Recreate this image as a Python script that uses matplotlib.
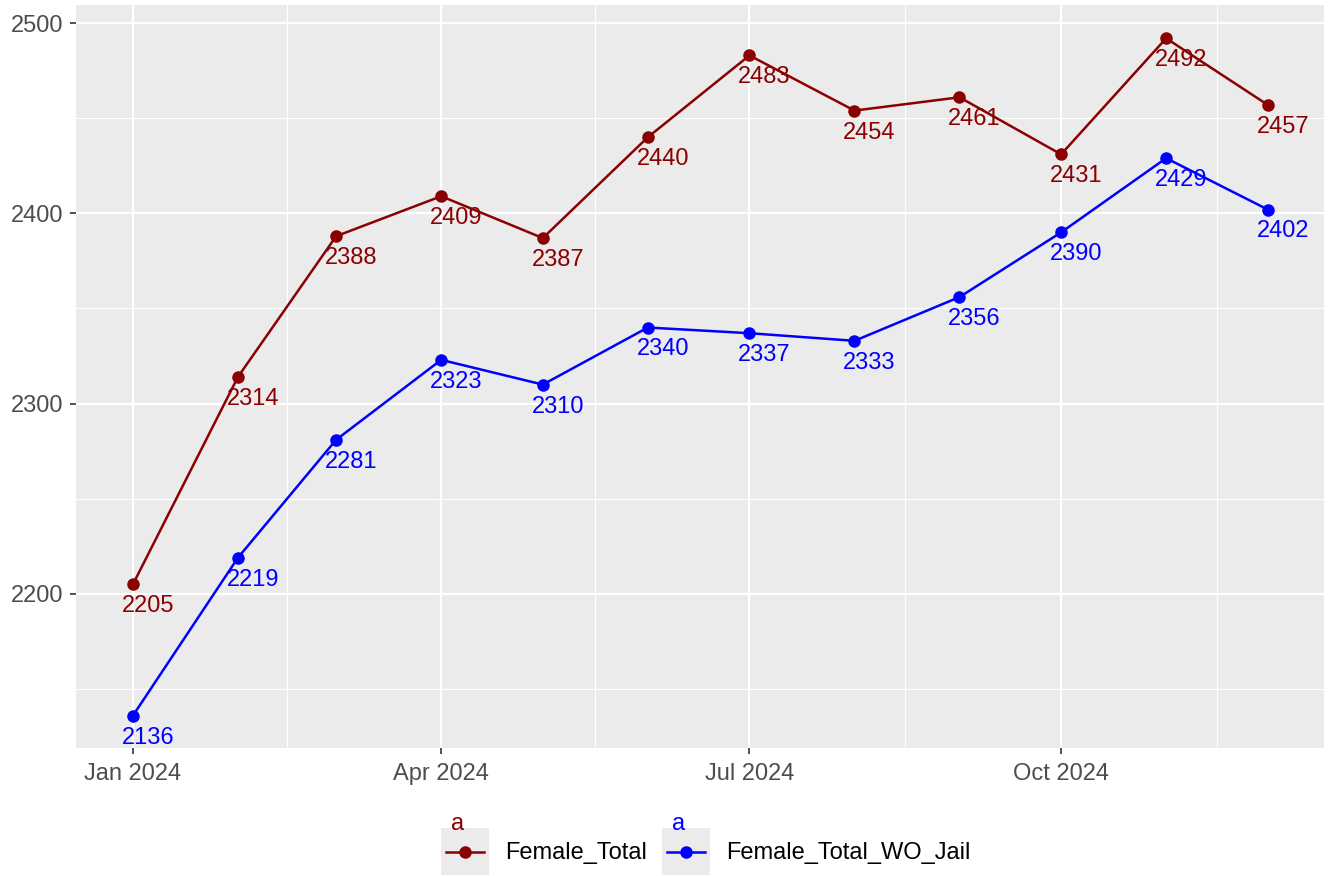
import numpy as np
import pandas as pd
import matplotlib
matplotlib.use("Agg")
import matplotlib.pyplot as plt
import matplotlib.dates as mdates
from matplotlib.legend_handler import HandlerBase
from matplotlib.lines import Line2D
from matplotlib.patches import Rectangle
from matplotlib.text import Text

plt.rcParams['font.family'] = ['Liberation Sans', 'DejaVu Sans']

months = pd.date_range('2024-01-01', periods=12, freq='MS')
female_total = [2205, 2314, 2388, 2409, 2387, 2440, 2483, 2454, 2461, 2431, 2492, 2457]
female_wo_jail = [2136, 2219, 2281, 2323, 2310, 2340, 2337, 2333, 2356, 2390, 2429, 2402]
series_names = ['Female_Total', 'Female_Total_WO_Jail']
colors = ['#8B0000', '#0000FF']
y_ticks = [2200, 2300, 2400, 2500]
x_ticks = pd.to_datetime(['2024-01-01', '2024-04-01', '2024-07-01', '2024-10-01'])

FS = 17


class KeyHandler(HandlerBase):
    # ggplot style key: grey box, line + point, and the little "a" from geom_text
    def create_artists(self, legend, orig_handle, xdescent, ydescent,
                       width, height, fontsize, trans):
        c = orig_handle.get_color()
        x0, y0 = -xdescent, -ydescent
        rect = Rectangle((x0, y0), width, height, fc='#EBEBEB', ec='none', transform=trans)
        ym = y0 + height / 2
        line = Line2D([x0 + 0.1 * width, x0 + 0.9 * width], [ym, ym], color=c, lw=1.8, transform=trans)
        dot = Line2D([x0 + width / 2], [ym], marker='o', ms=8, color=c, transform=trans)
        txt = Text(x0 + 0.34 * width, y0 + 1.08 * height, 'a', color=c, fontsize=FS,
                   ha='center', va='center', transform=trans)
        return [rect, line, dot, txt]


fig = plt.figure(figsize=(13.28, 8.76), dpi=100)
ax = fig.add_axes([76 / 1328, 128 / 876, 1248 / 1328, 743 / 876])
ax.set_facecolor('#EBEBEB')

xnum = mdates.date2num(months)
handles = []
for vals, col, name in zip([female_total, female_wo_jail], colors, series_names):
    h, = ax.plot(xnum, vals, color=col, lw=1.8, marker='o', ms=8, label=name, zorder=3)
    handles.append(h)
    for xv, yv in zip(xnum, vals):
        ax.annotate(str(yv), (xv, yv), xytext=(10.8, -15.8), textcoords='offset points',
                    ha='center', va='center', color=col, fontsize=FS, zorder=4)

# axis limits like ggplot expansion
x0 = mdates.date2num(pd.Timestamp('2024-01-01'))
ax.set_xlim(x0 - 16.8, x0 + 351.6)
ax.set_ylim(2119, 2509.5)

major_x = mdates.date2num(x_ticks)
minor_x = (major_x[:-1] + major_x[1:]) / 2
minor_x = np.append(minor_x, major_x[-1] + (major_x[-1] - major_x[-2]) / 2)
ax.set_xticks(major_x)
ax.set_xticklabels([d.strftime('%b %Y') for d in x_ticks])
ax.set_xticks(minor_x, minor=True)
ax.set_yticks(y_ticks)
ax.set_yticks([2150, 2250, 2350, 2450], minor=True)

ax.grid(True, which='major', color='white', lw=1.6)
ax.grid(True, which='minor', color='white', lw=0.8)
ax.set_axisbelow(True)
for s in ax.spines.values():
    s.set_visible(False)
ax.tick_params(which='major', length=4, width=1.2, color='#333333', labelsize=FS,
               labelcolor='#4D4D4D', pad=5)
ax.tick_params(axis='x', pad=6.5)
ax.tick_params(which='minor', length=0)

leg = fig.legend(handles=handles, labels=series_names, handler_map={Line2D: KeyHandler()},
                 loc='center', bbox_to_anchor=(706 / 1328, (876 - 851.5) / 876), ncol=2,
                 frameon=False, fontsize=FS, handlelength=2.0, handleheight=2.68,
                 handletextpad=0.7, columnspacing=0.65, borderpad=0)

fig.savefig('out.png', dpi=100)
